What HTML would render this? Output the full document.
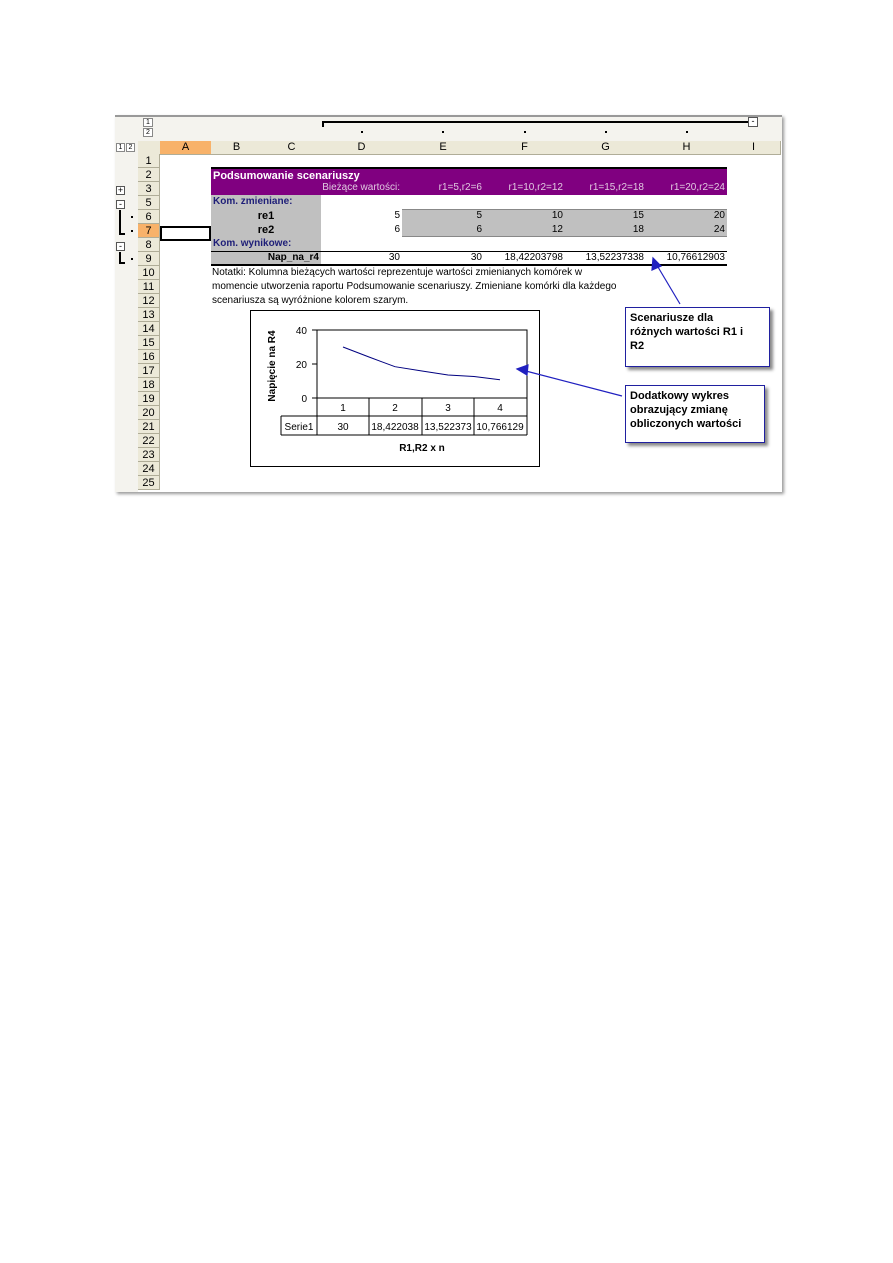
<!DOCTYPE html>
<html><head><meta charset="utf-8"><style>
body{margin:0;width:893px;height:1263px;background:#fff;position:relative;font-family:"Liberation Sans",Arial,sans-serif;overflow:hidden}
.a{position:absolute;box-sizing:border-box}
.ch{position:absolute;top:141px;height:13px;background:#ece9d8;border-right:1px solid #b0ad98;border-bottom:1px solid #b0ad98;font-size:11px;text-align:center;line-height:13px;color:#000}
.rh{position:absolute;left:138px;width:22px;height:14px;background:#ece9d8;border-bottom:1px solid #b0ad98;border-right:1px solid #b0ad98;font-size:11px;text-align:center;line-height:14px;box-sizing:border-box}
.t{position:absolute;font-size:10px;line-height:14px;white-space:nowrap}
.r{text-align:right}
.b{font-weight:bold}
</style></head><body>
<div class="a" style="left:115px;top:115px;width:667px;height:377px;border-top:2px solid #999;box-shadow:2px 2px 3px #999;background:#fff"></div>
<div class="a" style="left:115px;top:117px;width:667px;height:24px;background:#f4f3ee"></div>
<div class="a" style="left:115px;top:117px;width:23px;height:375px;background:#f4f3ee"></div>
<div class="a" style="left:143px;top:118px;width:10px;height:9px;border:1px solid #888;font-size:7px;text-align:center;line-height:8px;background:#fff">1</div>
<div class="a" style="left:143px;top:128px;width:10px;height:9px;border:1px solid #888;font-size:7px;text-align:center;line-height:8px;background:#fff">2</div>
<div class="a" style="left:322px;top:121px;width:426px;height:2px;background:#000"></div>
<div class="a" style="left:322px;top:121px;width:2px;height:6px;background:#000"></div>
<div class="a" style="left:748px;top:117px;width:10px;height:10px;border:1px solid #555;font-size:9px;line-height:7px;text-align:center;background:#fff">-</div>
<div class="a" style="left:361px;top:131px;width:2px;height:2px;background:#000"></div>
<div class="a" style="left:442px;top:131px;width:2px;height:2px;background:#000"></div>
<div class="a" style="left:524px;top:131px;width:2px;height:2px;background:#000"></div>
<div class="a" style="left:605px;top:131px;width:2px;height:2px;background:#000"></div>
<div class="a" style="left:686px;top:131px;width:2px;height:2px;background:#000"></div>
<div class="a" style="left:116px;top:143px;width:9px;height:9px;border:1px solid #888;font-size:7px;text-align:center;line-height:8px;background:#fff">1</div>
<div class="a" style="left:126px;top:143px;width:9px;height:9px;border:1px solid #888;font-size:7px;text-align:center;line-height:8px;background:#fff">2</div>
<div class="ch" style="left:138px;width:22px"></div>
<div class="ch" style="left:160px;width:51px;background:#f8b26a">A</div>
<div class="ch" style="left:211px;width:51px">B</div>
<div class="ch" style="left:262px;width:59px">C</div>
<div class="ch" style="left:321px;width:81px">D</div>
<div class="ch" style="left:402px;width:82px">E</div>
<div class="ch" style="left:484px;width:81px">F</div>
<div class="ch" style="left:565px;width:81px">G</div>
<div class="ch" style="left:646px;width:81px">H</div>
<div class="ch" style="left:727px;width:53px">I</div>
<div class="rh" style="top:154px">1</div><div class="rh" style="top:168px">2</div><div class="rh" style="top:182px">3</div><div class="rh" style="top:196px">5</div><div class="rh" style="top:210px">6</div><div class="rh" style="top:224px;background:#f8b26a">7</div><div class="rh" style="top:238px">8</div><div class="rh" style="top:252px">9</div><div class="rh" style="top:266px">10</div><div class="rh" style="top:280px">11</div><div class="rh" style="top:294px">12</div><div class="rh" style="top:308px">13</div><div class="rh" style="top:322px">14</div><div class="rh" style="top:336px">15</div><div class="rh" style="top:350px">16</div><div class="rh" style="top:364px">17</div><div class="rh" style="top:378px">18</div><div class="rh" style="top:392px">19</div><div class="rh" style="top:406px">20</div><div class="rh" style="top:420px">21</div><div class="rh" style="top:434px">22</div><div class="rh" style="top:448px">23</div><div class="rh" style="top:462px">24</div><div class="rh" style="top:476px">25</div>
<div class="a" style="left:116px;top:186px;width:9px;height:9px;border:1px solid #555;font-size:9px;line-height:7px;text-align:center;background:#fff">+</div>
<div class="a" style="left:116px;top:200px;width:9px;height:9px;border:1px solid #555;font-size:9px;line-height:7px;text-align:center;background:#fff">-</div>
<div class="a" style="left:119px;top:210px;width:2px;height:24px;background:#000"></div>
<div class="a" style="left:119px;top:233px;width:6px;height:2px;background:#000"></div>
<div class="a" style="left:116px;top:242px;width:9px;height:9px;border:1px solid #555;font-size:9px;line-height:7px;text-align:center;background:#fff">-</div>
<div class="a" style="left:119px;top:252px;width:2px;height:12px;background:#000"></div>
<div class="a" style="left:119px;top:262px;width:6px;height:2px;background:#000"></div>
<div class="a" style="left:131px;top:216px;width:2px;height:2px;background:#000"></div>
<div class="a" style="left:131px;top:230px;width:2px;height:2px;background:#000"></div>
<div class="a" style="left:131px;top:258px;width:2px;height:2px;background:#000"></div>
<div class="a" style="left:211px;top:167px;width:516px;height:28px;background:#800080;border-top:2px solid #000"></div>
<div class="t b" style="left:213px;top:169px;color:#fff;font-size:11px">Podsumowanie scenariuszy</div>
<div class="t r" style="left:321px;top:181px;width:79px;color:#e0c8e0">Bieżące wartości:</div>
<div class="t r" style="left:402px;top:181px;width:80px;color:#e0c8e0">r1=5,r2=6</div>
<div class="t r" style="left:484px;top:181px;width:79px;color:#e0c8e0">r1=10,r2=12</div>
<div class="t r" style="left:565px;top:181px;width:79px;color:#e0c8e0">r1=15,r2=18</div>
<div class="t r" style="left:646px;top:181px;width:79px;color:#e0c8e0">r1=20,r2=24</div>
<div class="a" style="left:211px;top:195px;width:110px;height:70px;background:#c0c0c0"></div>
<div class="a" style="left:402px;top:209px;width:325px;height:28px;background:#c0c0c0;border-top:1px solid #888;border-bottom:1px solid #888"></div>
<div class="a" style="left:211px;top:251px;width:516px;height:15px;border-top:1px solid #000;border-bottom:2px solid #000"></div>
<div class="t b" style="left:213px;top:195px;color:#1e1e78">Kom. zmieniane:</div>
<div class="t b" style="left:213px;top:237px;color:#1e1e78">Kom. wynikowe:</div>
<div class="t b" style="left:211px;top:209px;width:110px;text-align:center;font-size:11px">re1</div>
<div class="t b" style="left:211px;top:223px;width:110px;text-align:center;font-size:11px">re2</div>
<div class="t b r" style="left:211px;top:251px;width:108px">Nap_na_r4</div>
<div class="t r" style="left:321px;top:209px;width:79px">5</div><div class="t r" style="left:402px;top:209px;width:80px">5</div><div class="t r" style="left:484px;top:209px;width:79px">10</div><div class="t r" style="left:565px;top:209px;width:79px">15</div><div class="t r" style="left:646px;top:209px;width:79px">20</div>
<div class="t r" style="left:321px;top:223px;width:79px">6</div><div class="t r" style="left:402px;top:223px;width:80px">6</div><div class="t r" style="left:484px;top:223px;width:79px">12</div><div class="t r" style="left:565px;top:223px;width:79px">18</div><div class="t r" style="left:646px;top:223px;width:79px">24</div>
<div class="t r" style="left:321px;top:251px;width:79px">30</div><div class="t r" style="left:402px;top:251px;width:80px">30</div><div class="t r" style="left:484px;top:251px;width:79px">18,42203798</div><div class="t r" style="left:565px;top:251px;width:79px">13,52237338</div><div class="t r" style="left:646px;top:251px;width:79px">10,76612903</div>
<div class="a" style="left:160px;top:226px;width:51px;height:15px;border:2px solid #000"></div>
<div class="t" style="left:212px;top:266px">Notatki: Kolumna bieżących wartości reprezentuje wartości zmienianych komórek w</div>
<div class="t" style="left:212px;top:280px">momencie utworzenia raportu Podsumowanie scenariuszy. Zmieniane komórki dla każdego</div>
<div class="t" style="left:212px;top:294px">scenariusza są wyróżnione kolorem szarym.</div>
<div class="a" style="left:250px;top:310px;width:290px;height:157px;border:1px solid #000;background:#fff"></div>
<svg class="a" style="left:0;top:0" width="893" height="500">
<rect x="317" y="330" width="210" height="68" fill="none" stroke="#000" stroke-width="1"/>
<polyline points="343,347 369,357 395,366.7 422,371 448,375 474,376.5 500,379.7" fill="none" stroke="#000080" stroke-width="1"/>
<g stroke="#000" stroke-width="1" fill="none">
<line x1="281" y1="416" x2="527" y2="416"/><line x1="281" y1="435" x2="527" y2="435"/><line x1="281" y1="416" x2="281" y2="435"/>
<line x1="317" y1="398" x2="317" y2="435"/><line x1="369" y1="398" x2="369" y2="435"/><line x1="422" y1="398" x2="422" y2="435"/><line x1="474" y1="398" x2="474" y2="435"/><line x1="527" y1="398" x2="527" y2="435"/>
<line x1="312" y1="330" x2="317" y2="330"/><line x1="312" y1="364" x2="317" y2="364"/><line x1="312" y1="398" x2="317" y2="398"/>
</g>
<g font-family="Liberation Sans,Arial,sans-serif" font-size="10" text-anchor="middle">
<text x="307" y="334" text-anchor="end">40</text><text x="307" y="368" text-anchor="end">20</text><text x="307" y="402" text-anchor="end">0</text>
<text x="343" y="411">1</text><text x="395" y="411">2</text><text x="448" y="411">3</text><text x="500" y="411">4</text>
<text x="299" y="430">Serie1</text><text x="343" y="430">30</text><text x="395" y="430">18,422038</text><text x="448" y="430">13,522373</text><text x="500" y="430">10,766129</text>
<text x="422" y="451" font-weight="bold">R1,R2 x n</text>
<text x="0" y="0" font-weight="bold" transform="translate(275,366) rotate(-90)">Napięcie na R4</text>
</g>
<g stroke="#2020c0" stroke-width="1.2" fill="#2020c0">
<line x1="680" y1="304" x2="655" y2="262"/><polygon points="653,258 652,270 661,266"/>
<line x1="622" y1="396" x2="522" y2="370"/><polygon points="517,369 528,365 527,375"/>
</g>
</svg>
<div class="a" style="left:625px;top:307px;width:145px;height:60px;border:1px solid #2020a0;box-shadow:3px 3px 3px #888;background:#fff;font-size:11px;font-weight:bold;line-height:14px;padding:3px 14px 3px 4px">Scenariusze dla<br>różnych wartości R1 i<br>R2</div>
<div class="a" style="left:625px;top:385px;width:140px;height:58px;border:1px solid #2020a0;box-shadow:3px 3px 3px #888;background:#fff;font-size:11px;font-weight:bold;line-height:14px;padding:3px 4px">Dodatkowy wykres<br>obrazujący zmianę<br>obliczonych wartości</div>
</body></html>
